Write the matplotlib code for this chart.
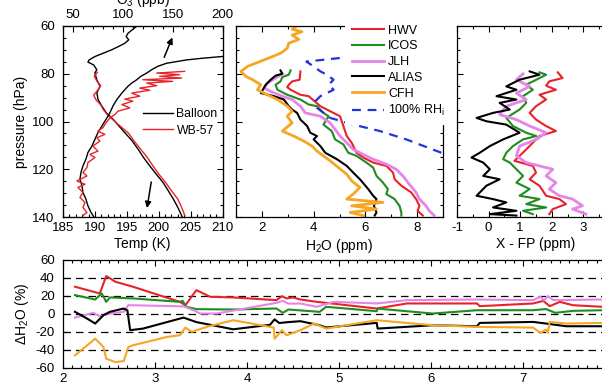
import matplotlib
matplotlib.use("Agg")
import matplotlib.pyplot as plt
from matplotlib.ticker import MultipleLocator

plt.rcParams["font.family"] = ["Liberation Sans", "DejaVu Sans"]
plt.rcParams["mathtext.fontset"] = "custom"
plt.rcParams["mathtext.rm"] = "Liberation Sans"
plt.rcParams["mathtext.it"] = "Liberation Sans:italic"
plt.rcParams["font.size"] = 9.5
plt.rcParams["axes.unicode_minus"] = False

# ---- panel 1: temperature (bottom axis) and ozone (top axis) vs pressure
BALLOON_T_P = [60, 61.7, 63, 64.4, 65.8, 67.2, 68.6, 70, 71.4, 72.8, 74.2, 75.1, 76.3,
               78.3, 79.7, 82.5, 85.3, 88, 90.8, 93.6, 96.4, 99.2, 102, 104.7, 108,
               111.7, 115, 118.6, 122, 125.6, 129, 132.5, 136, 139.4, 140]
BALLOON_T = [196.6, 195.8, 195.2, 194.9, 195.3, 194.7, 193.7, 192.6, 191.3, 190.0,
             189.1, 188.9, 189.8, 190.3, 190.0, 190.3, 190.8, 190.3, 190.5, 191.1,
             191.8, 192.9, 193.8, 194.7, 195.8, 196.8, 197.6, 198.6, 199.6, 200.7,
             201.5, 202.3, 203.0, 203.6, 203.7]
WB57_T_P = [79.4, 81, 83, 85, 87, 89, 91, 93, 95, 97, 99, 102, 105, 108, 111.7, 115,
            118.6, 122, 125.6, 129, 132.5, 136, 139.4]
WB57_T = [190.4, 189.9, 190.3, 190.9, 190.4, 189.8, 190.2, 190.9, 191.3, 191.9, 192.7,
          194.0, 195.3, 196.1, 197.2, 198.2, 199.1, 200.0, 201.1, 202.0, 203.0, 203.6,
          204.1]
BALLOON_O3_P = [72.1, 72.8, 73.5, 74.2, 75.6, 76.9, 78.3, 79.7, 81.1, 82.5, 83.9, 85.3,
                86.7, 88.1, 90.8, 93.6, 96.4, 99.2, 101.9, 104.7, 107.5, 110.3, 113,
                115.8, 118.6, 121.4, 124.2, 126.9, 129.7, 132.5, 135.3, 138, 140]
BALLOON_O3 = [225, 199, 180, 164, 144, 135, 129, 124, 118, 114, 109, 105, 102, 99, 94,
              90, 87, 83, 79, 75, 72, 69, 65, 63, 60, 58, 57, 59, 60, 63, 65, 68, 71]
WB57_O3_P = [79, 79.7, 80.4, 81.1, 81.8, 82.5, 83.2, 83.9, 85, 86, 86.9, 88.1, 89.4,
             90.6, 91.5, 92.9, 94.3, 95.7, 97.1, 98.5, 100.6, 102.6, 104, 105.4, 106.8,
             108.2, 110.3, 112.4, 113.8, 115.1, 117.2, 119.3, 121.4, 122.8, 124.9,
             126.3, 127.6, 129.7, 131.8, 133.9, 136, 138.1, 139.4]
WB57_O3 = [162, 134, 157, 137, 159, 120, 150, 124, 134, 117, 127, 109, 117, 102, 110,
           99, 107, 95, 92, 87, 83, 80, 75, 82, 74, 77, 70, 75, 67, 72, 65, 64, 60, 64,
           54, 62, 55, 60, 57, 62, 60, 64, 60]

# ---- panel 2: water vapour profiles (ppm)
HWV_P = [79.0, 82.5, 83.2, 84.6, 85.6, 86.7, 88.8, 89.4, 93.6, 95.7, 97.8, 101.9, 106.1,
         108.9, 113.1, 115.1, 117.2, 118.6, 121.4, 124.2, 126.9, 129.7, 132.5, 135.3,
         137.4, 139.4]
HWV = [3.49, 3.46, 3.17, 3.04, 2.98, 3.11, 3.49, 3.81, 4.26, 4.64, 5.02, 5.15, 5.28,
       5.47, 5.66, 5.92, 6.30, 6.81, 7.07, 7.13, 7.39, 7.77, 7.96, 8.09, 8.02, 8.22]
ICOS_P = [78.6, 80.4, 81.4, 83.2, 84.6, 86.7, 88.8, 90.8, 92.9, 93.6, 96.4, 97.8, 101.3,
          104, 107.5, 109.6, 113.1, 114.4, 117.2, 119.3, 122.8, 125.6, 128.3, 130.4,
          132.5, 135.3, 138.1, 139.4]
ICOS = [3.11, 3.04, 2.79, 2.72, 2.53, 2.60, 2.98, 3.49, 3.81, 4.13, 4.38, 4.58, 4.38,
        4.70, 4.83, 5.15, 5.34, 5.66, 6.04, 6.30, 6.43, 6.68, 6.87, 6.81, 7.13, 7.32,
        7.39, 7.39]
JLH_P = [80, 81.8, 83.9, 86, 87.4, 89.4, 90.8, 93.6, 96.4, 97.8, 100.6, 103.3, 106.1,
         108.9, 111.7, 113.8, 115.8, 117.9, 120, 122.8, 126.3, 129.7, 132.5, 135.3,
         137.4, 139.4]
JLH = [2.79, 2.53, 2.21, 2.09, 2.34, 2.79, 3.17, 3.49, 3.68, 4.26, 4.64, 4.83, 5.02,
       5.28, 5.53, 5.92, 6.30, 6.81, 7.19, 7.45, 7.70, 7.96, 8.09, 8.34, 8.47, 8.66]
ALIAS_P = [78.6, 80, 80.8, 82.5, 84.6, 88.1, 89.4, 90.8, 93.6, 95, 96.4, 99.2, 101.9,
           104.7, 106.1, 107.5, 110.3, 113.1, 115.8, 118.6, 121.4, 124.2, 128.3, 131.1,
           132.5, 135.3, 138.1, 139.4]
ALIAS = [2.72, 2.79, 2.53, 2.34, 2.15, 1.96, 2.47, 2.85, 3.04, 3.17, 3.36, 3.49, 3.75,
         3.87, 4.13, 4.00, 4.26, 4.45, 4.90, 5.28, 5.53, 5.79, 6.11, 6.30, 6.43, 6.33,
         6.43, 6.36]
CFH_P = [60, 61.4, 62.4, 63.8, 65.6, 67.2, 69.3, 71.4, 73.1, 75.3, 76.9, 79, 81.1, 82.5,
         84.6, 86.7, 88.8, 90.8, 93.6, 95.7, 97.8, 100.6, 104, 106.1, 108.2, 110.3,
         112.4, 114.4, 116.5, 119.3, 122.1, 124.9, 127.6, 130.4, 132.5, 133.9, 135.3,
         136.7, 138.1, 139.4]
CFH = [3.36, 3.17, 3.55, 3.17, 3.43, 3.04, 2.98, 2.72, 2.34, 1.83, 1.45, 1.19, 1.38,
       1.64, 1.96, 1.83, 2.21, 2.60, 2.98, 3.17, 2.98, 3.17, 2.79, 3.23, 3.62, 3.94,
       4.13, 4.38, 4.64, 4.96, 5.28, 5.47, 5.79, 5.53, 5.28, 6.68, 5.47, 6.43, 5.41,
       5.92]
RHI_P = [71, 73.1, 74.9, 76.9, 79, 80.4, 82.5, 84.6, 86.7, 88.1, 89.4, 91.5, 94.3, 98.5,
         101.3, 104, 107.5, 111.7, 113.8]
RHI = [6.8, 5.28, 3.72, 4.00, 4.26, 4.51, 4.77, 4.58, 4.77, 4.51, 4.26, 4.07, 4.13,
       4.64, 5.53, 6.56, 7.58, 8.60, 9.11]

# ---- panel 3: instrument minus frost point (ppm)
HWV_FP_P = [79.4, 81.8, 83.2, 85, 86.7, 88.8, 90.8, 93.6, 96.4, 99.2, 101.9, 104, 106.1,
            108.9, 111.7, 114.4, 116.5, 118.6, 121.4, 124.2, 126.9, 131.1, 132.5, 134.6,
            136.7, 138.8]
HWV_FP = [2.19, 2.34, 1.92, 1.82, 2.13, 1.61, 1.82, 1.50, 1.30, 1.50, 1.82, 2.13, 1.61,
          1.40, 1.19, 0.98, 0.82, 1.40, 1.50, 1.30, 1.61, 1.82, 2.24, 2.45, 2.03, 1.92]
ICOS_FP_P = [79.4, 80.4, 82.5, 84.6, 86.7, 89.4, 92.2, 95, 98.5, 101.9, 104.7, 106.1,
             107.5, 110.3, 113.1, 115.8, 117.2, 120, 122.8, 125.6, 128.3, 131.1, 132.5,
             134.6, 136, 137.4, 138.8]
ICOS_FP = [1.61, 1.82, 1.51, 1.19, 1.40, 1.09, 1.19, 0.98, 0.56, 0.77, 1.19, 1.51, 1.09,
           0.77, 0.56, 0.46, 0.67, 0.88, 1.09, 0.88, 1.30, 0.98, 1.61, 1.19, 1.82, 1.09,
           1.40]
JLH_FP_P = [80, 82.5, 85.3, 88.1, 90.8, 93.6, 97.1, 99.2, 101.9, 104.7, 107.5, 110.3,
            114.4, 117.2, 118.6, 120, 122.8, 125.6, 128.3, 131.1, 132.5, 135.3, 136.7,
            138.8]
JLH_FP = [1.09, 0.88, 1.30, 0.88, 1.19, 0.56, 0.35, 0.88, 1.30, 1.82, 1.51, 0.98, 0.88,
          1.19, 1.61, 2.03, 1.82, 2.13, 1.92, 2.24, 2.66, 2.97, 2.66, 3.08]
ALIAS_FP_P = [79, 80.4, 82.5, 85.3, 86.7, 89.4, 90.8, 92.2, 95, 96.4, 98.5, 99.9, 101.3,
              104.7, 107.5, 110.3, 113.1, 115.1, 117.2, 120, 122.8, 124.2, 126.9, 131.1,
              132.5, 133.9, 136, 137.4, 138.8, 139.4]
ALIAS_FP = [1.30, 1.61, 0.98, 0.56, 0.88, 0.25, 0.88, 0.35, 0.67, 0.14, -0.38, -0.07,
            0.56, 0.98, 0.46, 0.04, -0.28, -0.54, -0.17, 0.04, -0.17, 0.35, -0.07, -0.38,
            0.14, 0.56, 0.14, 0.88, 0.04, 0.88]

# ---- bottom panel: percent difference vs H2O (ppm)
HWV_D_X = [2.13, 2.40, 2.47, 2.57, 2.76, 3.27, 3.33, 3.45, 3.60, 3.85, 4.32, 4.38, 4.43,
           4.50, 4.58, 4.76, 5.41, 5.74, 6.50, 6.53, 7.11, 7.22, 7.29, 7.40, 7.54, 7.86,
           8.0]
HWV_D = [30.3, 22.8, 42.2, 35.8, 30.3, 13.5, 9.8, 26.5, 19.1, 18.4, 15.4, 19.8, 17.3,
         18.4, 16.1, 13.5, 6.1, 11.7, 11.7, 8.7, 11.7, 14.6, 8.7, 13.5, 9.8, 8.0, 8.0]
ICOS_D_X = [2.13, 2.35, 2.42, 2.47, 2.51, 2.76, 3.27, 3.30, 3.34, 3.45, 3.85, 4.32, 4.39,
            4.45, 4.79, 4.86, 5.41, 5.42, 6.02, 6.50, 7.11, 7.25, 7.35, 7.54, 7.86, 8.0]
ICOS_D = [21.0, 16.1, 22.8, 13.5, 18.4, 17.3, 13.5, 14.6, 8.0, 5.4, 5.0, 6.1, 1.3, 5.0,
          2.4, 8.0, 3.1, 6.0, 0.5, 4.2, 4.2, 5.5, 1.3, 3.5, 4.2, 4.2]
JLH_D_X = [2.13, 2.33, 2.40, 2.51, 2.66, 2.71, 3.31, 3.42, 3.49, 3.67, 4.32, 4.39, 4.45,
           4.58, 4.76, 4.94, 5.41, 5.74, 6.50, 7.11, 7.19, 7.23, 7.27, 7.33, 7.86, 8.0]
JLH_D = [-4.0, 1.3, -2.4, 0.5, 2.4, 9.8, 8.5, 4.2, 0.5, 0.5, 12.4, 14.6, 11.5, 11.7, 8.0,
         13.5, 11.7, 15.4, 16.1, 15.4, 19.1, 15.0, 19.9, 15.4, 16.1, 16.1]
ALIAS_D_X = [2.13, 2.26, 2.35, 2.44, 2.51, 2.66, 2.70, 2.73, 2.87, 3.31, 3.45, 3.85,
             4.25, 4.30, 4.35, 4.45, 4.58, 4.79, 4.86, 5.41, 5.42, 6.02, 6.50, 6.53, 7.11,
             7.25, 7.47, 7.86, 8.0]
ALIAS_D = [2.4, -5.0, -10.6, -1.3, 2.4, 6.1, 4.0, -18.0, -16.2, -4.0, -9.0, -17.0, -12.0,
           -6.0, -10.0, -9.0, -8.0, -12.5, -15.0, -9.9, -16.2, -12.5, -13.6, -9.9, -8.8,
           -10.6, -13.6, -13.6, -13.6]
CFH_D_X = [2.13, 2.35, 2.44, 2.47, 2.57, 2.66, 2.71, 2.76, 3.13, 3.27, 3.33, 3.40, 3.56,
           3.85, 4.29, 4.30, 4.38, 4.43, 4.58, 4.73, 4.86, 5.41, 6.02, 6.50, 7.11, 7.19,
           7.25, 7.27, 7.29, 7.47, 7.86, 8.0]
CFH_D = [-46.0, -27.4, -36.7, -49.7, -53.4, -52.3, -36.7, -34.8, -25.5, -23.6, -15.1,
         -19.9, -14.3, -6.9, -15.1, -27.4, -18.0, -23.6, -18.0, -10.6, -16.2, -6.9, -12.5,
         -14.3, -15.1, -21.0, -17.3, -21.0, -8.8, -10.6, -9.9, -9.9]
REF_LEVELS = [-40, -20, 0, 20, 40]

RED = "#e8222a"
GREEN = "#1e8c1e"
VIOLET = "#e684e8"
ORANGE = "#f5a623"
BLUE = "#2233dd"

W, H = 602, 386
fig = plt.figure(figsize=(W / 100, H / 100), dpi=100)


def box(x0, y0, x1, y1):
    # pixel box (top-left origin) -> figure fraction
    return [x0 / W, 1 - y1 / H, (x1 - x0) / W, (y1 - y0) / H]


def style(ax, top=True):
    ax.tick_params(which="both", direction="in", top=top, right=True, width=0.8)
    ax.tick_params(which="major", length=4.5)
    ax.tick_params(which="minor", length=2.5)
    ax.tick_params(axis="y", pad=6)
    for s in ax.spines.values():
        s.set_linewidth(0.9)


ax1 = fig.add_axes(box(63, 26, 222.5, 217))
ax2 = fig.add_axes(box(236, 26, 443, 217))
ax3 = fig.add_axes(box(457, 26, 615, 217))
ax4 = fig.add_axes(box(63, 260, 615, 368))

# panel 1
ax1.plot(BALLOON_T, BALLOON_T_P, color="black", lw=1.0)
ax1.plot(WB57_T, WB57_T_P, color=RED, lw=1.0)
ax1.set_xlim(185, 210)
ax1.set_ylim(140, 60)
ax1.xaxis.set_major_locator(MultipleLocator(5))
ax1.xaxis.set_minor_locator(MultipleLocator(1))
ax1.yaxis.set_major_locator(MultipleLocator(20))
ax1.yaxis.set_minor_locator(MultipleLocator(5))
style(ax1, top=False)
ax1.set_xlabel("Temp (K)", fontsize=10, labelpad=2)
ax1.set_ylabel("pressure (hPa)", fontsize=10, labelpad=3)

ax1t = ax1.twiny()
ax1t.plot(BALLOON_O3, BALLOON_O3_P, color="black", lw=1.0, label="Balloon")
ax1t.plot(WB57_O3, WB57_O3_P, color=RED, lw=1.0, label="WB-57")
ax1t.set_xlim(40, 200)
ax1t.xaxis.set_major_locator(MultipleLocator(50))
ax1t.xaxis.set_minor_locator(MultipleLocator(10))
ax1t.tick_params(which="both", direction="in", width=0.8)
ax1t.tick_params(which="major", length=4.5)
ax1t.tick_params(which="minor", length=2.5)
ax1t.set_xlabel("O$_3$ (ppb)", fontsize=10, labelpad=3.5)
ax1t.legend(loc="upper left", bbox_to_anchor=(0.47, 0.595), frameon=False, fontsize=8.8,
            handlelength=2.5, handletextpad=0.25, labelspacing=0.35, borderaxespad=0)

arrow = dict(arrowstyle="-|>", color="black", lw=1.1, mutation_scale=9)
ax1.annotate("", xy=(198.1, 137.4), xytext=(198.9, 124.2), arrowprops=arrow)
ax1.annotate("", xy=(202.3, 63.7), xytext=(200.7, 74.2), arrowprops=arrow)

# panel 2
ax2.plot(HWV, HWV_P, color=RED, lw=1.5, label="HWV")
ax2.plot(ICOS, ICOS_P, color=GREEN, lw=1.5, label="ICOS")
ax2.plot(JLH, JLH_P, color=VIOLET, lw=2.0, label="JLH")
ax2.plot(ALIAS, ALIAS_P, color="black", lw=1.5, label="ALIAS")
ax2.plot(CFH, CFH_P, color=ORANGE, lw=2.0, label="CFH")
ax2.plot(RHI, RHI_P, color=BLUE, lw=1.6, ls=(0, (4, 3)), label="100% RH$_\\mathrm{i}$")
ax2.set_xlim(1, 9)
ax2.set_ylim(140, 60)
ax2.xaxis.set_major_locator(MultipleLocator(2))
ax2.xaxis.set_minor_locator(MultipleLocator(1))
ax2.yaxis.set_major_locator(MultipleLocator(20))
ax2.yaxis.set_minor_locator(MultipleLocator(5))
ax2.set_yticklabels([])
style(ax2)
ax2.set_xlabel("H$_2$O (ppm)", fontsize=10, labelpad=2)
leg = ax2.legend(loc="upper right", bbox_to_anchor=(1.04, 1.04), fontsize=9,
                 frameon=True, facecolor="white", edgecolor="none", framealpha=1,
                 fancybox=False, handlelength=2.6, handletextpad=0.3,
                 labelspacing=0.3, borderpad=0.5, borderaxespad=0)
leg.set_zorder(10)

# panel 3
ax3.plot(HWV_FP, HWV_FP_P, color=RED, lw=1.5)
ax3.plot(ICOS_FP, ICOS_FP_P, color=GREEN, lw=1.5)
ax3.plot(JLH_FP, JLH_FP_P, color=VIOLET, lw=2.0)
ax3.plot(ALIAS_FP, ALIAS_FP_P, color="black", lw=1.5)
ax3.set_xlim(-1, 4)
ax3.set_ylim(140, 60)
ax3.xaxis.set_major_locator(MultipleLocator(1))
ax3.xaxis.set_minor_locator(MultipleLocator(0.5))
ax3.yaxis.set_major_locator(MultipleLocator(20))
ax3.yaxis.set_minor_locator(MultipleLocator(5))
ax3.set_yticklabels([])
style(ax3)
ax3.set_xlabel("X - FP (ppm)", fontsize=10, labelpad=2)

# bottom panel
for lvl in REF_LEVELS:
    ax4.axhline(lvl, color="black", lw=0.9, ls=(0, (6, 4)), zorder=1)
ax4.plot(HWV_D_X, HWV_D, color=RED, lw=1.5)
ax4.plot(ICOS_D_X, ICOS_D, color=GREEN, lw=1.5)
ax4.plot(JLH_D_X, JLH_D, color=VIOLET, lw=1.5)
ax4.plot(ALIAS_D_X, ALIAS_D, color="black", lw=1.5)
ax4.plot(CFH_D_X, CFH_D, color=ORANGE, lw=1.5)
ax4.set_xlim(2, 8)
ax4.set_ylim(-60, 60)
ax4.xaxis.set_major_locator(MultipleLocator(1))
ax4.xaxis.set_minor_locator(MultipleLocator(0.1))
ax4.yaxis.set_major_locator(MultipleLocator(20))
style(ax4)
ax4.set_ylabel("ΔH$_2$O (%)", fontsize=10, labelpad=3)
ax4.set_xlabel("H$_2$O (ppm)", fontsize=10, labelpad=2)

fig.savefig("out.png", dpi=100)
